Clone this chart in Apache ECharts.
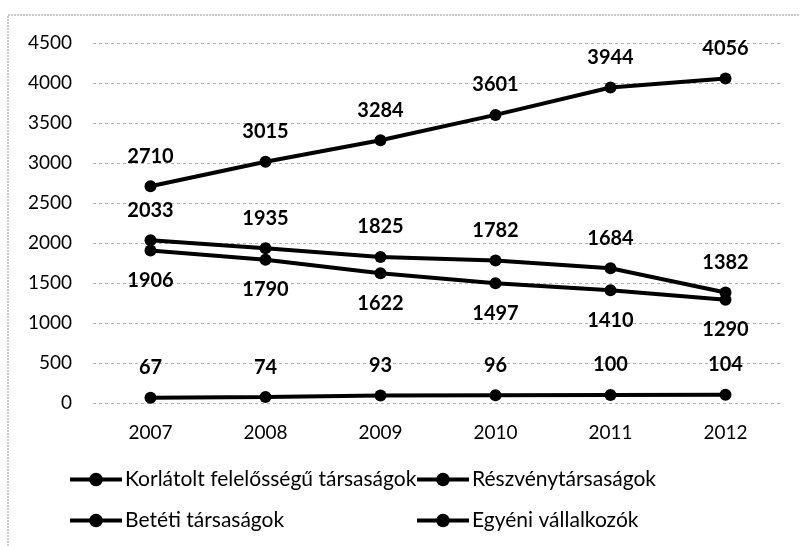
<!DOCTYPE html>
<html>
<head>
<meta charset="utf-8">
<script src="https://cdn.jsdelivr.net/npm/echarts@6/dist/echarts.min.js"></script>
<style>
  html, body { margin: 0; padding: 0; background: #fff; }
  #chart { width: 800px; height: 546px; }
</style>
</head>
<body>
<div id="chart"></div>
<script>
// Number of enterprises by legal form, 2007–2012
const years = ['2007', '2008', '2009', '2010', '2011', '2012'];
const seriesNames = [
  'Korlátolt felelősségű társaságok',
  'Részvénytársaságok',
  'Betéti társaságok',
  'Egyéni vállalkozók'
];
const kft = [2710, 3015, 3284, 3601, 3944, 4056];
const rt = [67, 74, 93, 96, 100, 104];
const bt = [2033, 1935, 1825, 1782, 1684, 1382];
const egyeni = [1906, 1790, 1622, 1497, 1410, 1290];
const yTicks = [0, 500, 1000, 1500, 2000, 2500, 3000, 3500, 4000, 4500];

const font = 'Lato, "Noto Sans", sans-serif';
const chart = echarts.init(document.getElementById('chart'), null, { renderer: 'canvas' });

function lineSeries(name, data, labelPos) {
  return {
    name: name,
    type: 'line',
    data: data,
    symbol: 'circle',
    symbolSize: 12,
    lineStyle: { color: '#000', width: 4 },
    itemStyle: { color: '#000' },
    label: {
      show: true,
      position: labelPos,
      distance: 14,
      color: '#000',
      fontFamily: font,
      fontWeight: 'bold',
      fontSize: 20
    },
    emphasis: { disabled: true },
    animation: false
  };
}

function legendAt(name, left, top) {
  return {
    data: [name],
    left: left,
    top: top,
    padding: 0,
    itemWidth: 52,
    itemHeight: 17,
    itemGap: 0,
    itemStyle: { borderWidth: 0 },
    lineStyle: { width: 4 },
    textStyle: { fontFamily: font, fontSize: 21, color: '#000', padding: [0, 0, 0, -2] },
    selectedMode: false
  };
}

chart.setOption({
  backgroundColor: '#fff',
  animation: false,
  graphic: [{
    type: 'rect',
    shape: { x: 8, y: 15, width: 820, height: 560 },
    style: { fill: 'none', stroke: '#999', lineWidth: 1, lineDash: [2, 1] },
    silent: true
  }],
  grid: { left: 93, right: 17, top: 43, bottom: 143 },
  xAxis: {
    type: 'category',
    data: years,
    boundaryGap: true,
    axisLine: { show: false },
    axisTick: { show: false },
    axisLabel: { fontFamily: font, fontSize: 19, color: '#000', margin: 20 }
  },
  yAxis: {
    type: 'value',
    min: yTicks[0],
    max: yTicks[yTicks.length - 1],
    interval: 500,
    axisLine: { show: false },
    axisTick: { show: false },
    axisLabel: {
      fontFamily: font, fontSize: 19, color: '#000', margin: 21,
      formatter: function (v) { return String(v); }
    },
    splitLine: { lineStyle: { color: '#b0b0b0', type: [3, 3], width: 1 } }
  },
  legend: [
    legendAt(seriesNames[0], 68, 469),
    legendAt(seriesNames[1], 415, 469),
    legendAt(seriesNames[2], 68, 510),
    legendAt(seriesNames[3], 415, 510)
  ],
  series: [
    lineSeries(seriesNames[0], kft, 'top'),
    lineSeries(seriesNames[1], rt, 'top'),
    lineSeries(seriesNames[2], bt, 'top'),
    lineSeries(seriesNames[3], egyeni, 'bottom')
  ]
});
</script>
</body>
</html>
